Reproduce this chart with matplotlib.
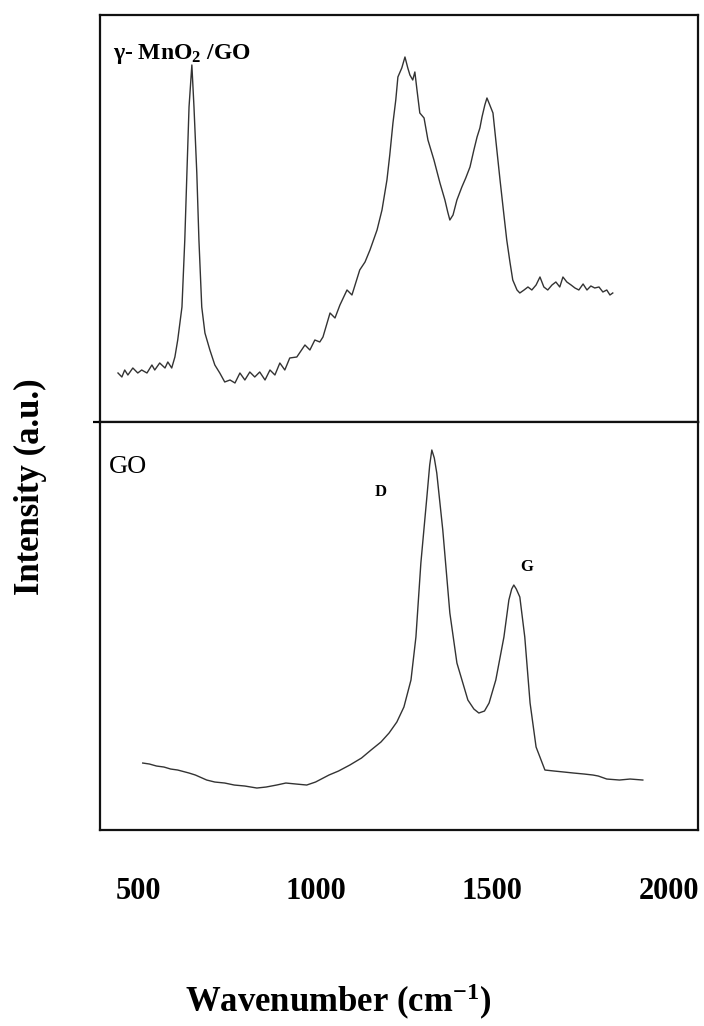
import matplotlib
matplotlib.use("Agg")
import matplotlib.pyplot as plt

default_font = "Liberation Serif"

# gamma-MnO2/GO spectrum, values (intensity in a.u.)
mno2_wavenumber = [441, 452, 460, 469, 483, 497, 508, 523, 537, 545,
                   559, 574, 582, 593, 602, 610, 622, 630, 636, 642,
                   650, 656, 664, 670, 678, 687, 701, 715, 729, 743,
                   758, 772, 786, 800, 814, 828, 842, 857, 871, 885,
                   899, 913, 927, 947, 970, 984, 998, 1012, 1021, 1041,
                   1055, 1069, 1089, 1103, 1125, 1140, 1154, 1174, 1188, 1202,
                   1210, 1219, 1227, 1233, 1244, 1253, 1261, 1267, 1275, 1281,
                   1287, 1295, 1307, 1318, 1335, 1352, 1366, 1374, 1380, 1389,
                   1400, 1414, 1425, 1437, 1448, 1457, 1465, 1471, 1479, 1485,
                   1493, 1502, 1510, 1522, 1533, 1541, 1550, 1558, 1570, 1578,
                   1590, 1601, 1612, 1624, 1635, 1646, 1657, 1669, 1680, 1691,
                   1700, 1711, 1723, 1734, 1745, 1757, 1768, 1779, 1790, 1802,
                   1813, 1824, 1833, 1841]
mno2_intensity = [49, 45, 52, 47, 54, 49, 52, 49, 57, 52,
                  59, 54, 60, 54, 65, 82, 115, 182, 249, 315,
                  357, 315, 249, 182, 115, 89, 72, 57, 49, 40,
                  42, 39, 49, 42, 50, 45, 50, 42, 52, 47,
                  59, 52, 64, 65, 77, 72, 82, 80, 85, 109,
                  104, 117, 132, 127, 152, 160, 172, 192, 212, 242,
                  267, 299, 322, 345, 354, 365, 354, 347, 342, 350,
                  332, 309, 304, 282, 262, 239, 222, 210, 202, 207,
                  222, 235, 244, 255, 272, 285, 294, 305, 317, 324,
                  317, 309, 282, 242, 207, 182, 160, 142, 132, 129,
                  132, 135, 132, 137, 145, 135, 132, 137, 140, 135,
                  145, 140, 137, 134, 132, 138, 132, 136, 134, 135,
                  130, 132, 127, 129]

# GO spectrum
go_wavenumber = [511, 530, 550, 571, 590, 610, 642, 660, 692, 715,
                 743, 770, 800, 834, 860, 890, 916, 945, 975, 1000,
                 1038, 1065, 1097, 1130, 1157, 1185, 1208, 1230, 1250, 1270,
                 1284, 1298, 1315, 1323, 1329, 1336, 1343, 1360, 1380, 1400,
                 1431, 1448, 1462, 1478, 1491, 1510, 1533, 1547, 1555, 1561,
                 1568, 1578, 1592, 1607, 1624, 1649, 1675, 1703, 1730, 1760,
                 1785, 1800, 1824, 1860, 1890, 1926]
go_intensity = [67, 66, 64, 63, 61, 60, 57, 55, 50, 48,
                47, 45, 44, 42, 43, 45, 47, 46, 45, 48,
                55, 59, 65, 72, 80, 88, 97, 108, 123, 150,
                193, 267, 333, 365, 380, 372, 357, 300, 217, 167,
                130, 121, 117, 119, 127, 150, 193, 230, 241, 245,
                241, 233, 193, 127, 83, 60, 59, 58, 57, 56,
                55, 54, 51, 50, 51, 50]

xticks = [500, 1000, 1500, 2000]
band_labels = ["D", "G"]
band_pos = [(1185, 338), (1598, 263)]

plt.rcParams["font.family"] = [default_font, "DejaVu Serif"]
plt.rcParams["mathtext.fontset"] = "custom"
plt.rcParams["mathtext.rm"] = "Liberation Serif:bold"
plt.rcParams["mathtext.bf"] = "Liberation Serif:bold"
plt.rcParams["mathtext.it"] = "Liberation Serif:bold"

fig = plt.figure(figsize=(7.04, 10.26), dpi=100)
ax_top = fig.add_axes([0.1420, 0.5887, 0.8494, 0.3967])
ax_bot = fig.add_axes([0.1420, 0.1910, 0.8494, 0.3977])

line_color = "#333333"
ax_top.plot(mno2_wavenumber, mno2_intensity, color=line_color, lw=1.0)
ax_bot.plot(go_wavenumber, go_intensity, color=line_color, lw=1.0)

for ax in (ax_top, ax_bot):
    ax.set_xlim(390, 2082)
    for sp in ax.spines.values():
        sp.set_linewidth(1.6)
        sp.set_color("#111111")
ax_top.set_ylim(0, 407)
ax_bot.set_ylim(0, 408)
ax_top.set_yticks([])
# small stub where the two panels meet
ax_bot.set_yticks([408])
ax_bot.set_yticklabels([])
ax_bot.tick_params(axis="y", length=5, width=1.6, direction="out")
ax_top.set_xticks([])
ax_bot.set_xticks(xticks)
ax_bot.set_xticklabels([str(t) for t in xticks], fontsize=22,
                       fontweight="bold")
ax_bot.tick_params(axis="x", length=0, pad=34)

ax_top.text(0.022, 0.892, r"γ- MnO$_2$ /GO", transform=ax_top.transAxes,
            fontsize=17, fontweight="bold", va="baseline", ha="left")
ax_bot.text(0.015, 0.890, "GO", transform=ax_bot.transAxes, fontsize=19,
            va="center", ha="left")
for lab, (bx, by) in zip(band_labels, band_pos):
    ax_bot.text(bx, by, lab, fontsize=12, fontweight="bold",
                ha="center", va="center")

fig.text(0.480, 0.0136, r"Wavenumber (cm$^{-1}$)", fontsize=25,
         fontweight="bold", ha="center", va="baseline")
fig.text(0.0426, 0.526, "Intensity (a.u.)", fontsize=25, fontweight="bold",
         rotation=90, ha="center", va="center")

fig.savefig("out.png", dpi=100)
plt.close(fig)
